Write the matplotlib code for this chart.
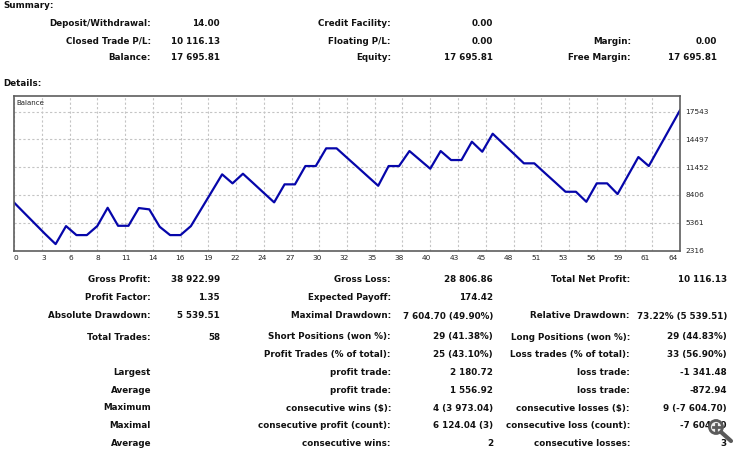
import numpy as np
import matplotlib.pyplot as plt
from matplotlib.patches import Circle
from matplotlib.lines import Line2D
from matplotlib.transforms import IdentityTransform

# balance curve
balance = [7580, 6420, 5268, 4116, 3018, 4993, 4006, 4006, 4993, 7001,
           5026, 5026, 6969, 6826, 4917, 4006, 4006, 4993, 6881, 8768,
           10666, 9679, 10732, 9690, 8636, 7594, 9569, 9569, 11577, 11577,
           13519, 13519, 12488, 11468, 10436, 9415, 11577, 11577, 13223, 12252,
           11281, 13223, 12236, 12236, 14244, 13146, 15122, 14035, 12960, 11874,
           11874, 10831, 9800, 8757, 8757, 7660, 9679, 9679, 8505, 10535,
           12565, 11577, 13618, 15659, 17695.81]
x_labels = ['0', '3', '6', '8', '11', '14', '16', '19', '22', '24', '27', '30',
            '32', '35', '38', '40', '43', '45', '48', '51', '53', '56', '59',
            '61', '64']
y_ticks = [2316, 5361, 8406, 11452, 14497, 17543]

summary_rows = [
    ["Deposit/Withdrawal:", "14.00", "Credit Facility:", "0.00", "", ""],
    ["Closed Trade P/L:", "10 116.13", "Floating P/L:", "0.00", "Margin:", "0.00"],
    ["Balance:", "17 695.81", "Equity:", "17 695.81", "Free Margin:", "17 695.81"],
]
details_rows = [
    ["Gross Profit:", "38 922.99", "Gross Loss:", "28 806.86", "Total Net Profit:", "10 116.13"],
    ["Profit Factor:", "1.35", "Expected Payoff:", "174.42", "", ""],
    ["Absolute Drawdown:", "5 539.51", "Maximal Drawdown:", "7 604.70 (49.90%)",
     "Relative Drawdown:", "73.22% (5 539.51)"],
    ["Total Trades:", "58", "Short Positions (won %):", "29 (41.38%)",
     "Long Positions (won %):", "29 (44.83%)"],
    ["", "", "Profit Trades (% of total):", "25 (43.10%)",
     "Loss trades (% of total):", "33 (56.90%)"],
    ["Largest", "", "profit trade:", "2 180.72", "loss trade:", "-1 341.48"],
    ["Average", "", "profit trade:", "1 556.92", "loss trade:", "-872.94"],
    ["Maximum", "", "consecutive wins ($):", "4 (3 973.04)",
     "consecutive losses ($):", "9 (-7 604.70)"],
    ["Maximal", "", "consecutive profit (count):", "6 124.04 (3)",
     "consecutive loss (count):", "-7 604.70"],
    ["Average", "", "consecutive wins:", "2", "consecutive losses:", "3"],
]

W, H = 750, 455
fig = plt.figure(figsize=(W / 100, H / 100), dpi=100)
fig.patch.set_facecolor('white')


def px(x, y):
    return x / W, 1 - y / H


def table(rows, ys, cols, fs=6.3):
    for row, y in zip(rows, ys):
        for txt, xr in zip(row, cols):
            if txt:
                fig.text(*px(xr, y), txt, ha='right', va='center',
                         fontsize=fs, fontweight='bold', color='#111111')


fig.text(*px(3, 6), "Summary:", ha='left', va='center', fontsize=6.3,
         fontweight='bold', color='#111111')
table(summary_rows, [23, 41, 58], [151, 220, 391, 493, 631, 717])
fig.text(*px(3, 84), "Details:", ha='left', va='center', fontsize=6.3,
         fontweight='bold', color='#111111')
table(details_rows, [280, 298, 316, 337, 355, 372.5, 390.5, 408, 425.5, 443],
      [151, 220, 391, 493, 630, 727])

# balance graph
left, right, top, bottom = 14, 680, 96, 250.5
ax = fig.add_axes([left / W, 1 - bottom / H, (right - left) / W, (bottom - top) / H])
x = np.arange(len(balance))
ax.plot(x, balance, color='#0606aa', lw=1.6, solid_joinstyle='round')
ax.set_xlim(0, 64)
ax.set_ylim(2316, 19258)

ax.set_xticks(np.linspace(0, 64, 25), minor=True)
ax.set_xticks(np.linspace(0.2, 63.3, 25))
ax.set_xticklabels(x_labels)
ax.set_yticks(y_ticks)
ax.yaxis.tick_right()
ax.tick_params(axis='both', which='both', length=0, labelsize=5.3,
               colors='#222222')
ax.tick_params(axis='x', pad=3)
ax.tick_params(axis='y', pad=4)
ax.xaxis.grid(True, which='minor', color='#c4c4c4', ls=(0, (2, 2)), lw=0.8)
ax.yaxis.grid(True, which='major', color='#c4c4c4', ls=(0, (2, 2)), lw=0.8)
ax.set_axisbelow(True)
for s in ax.spines.values():
    s.set_color('#5e5e5e')
    s.set_linewidth(1.2)
ax.text(0.004, 0.955, "Balance", transform=ax.transAxes, ha='left', va='center',
        fontsize=5, color='#222222')

# zoom icon of the screenshot (pixel coordinates), drawn over the text
pix = IdentityTransform()
icx, icy = 716, H - 427
icon = '#5a5a5a'
fig.add_artist(Line2D([icx + 5, icx + 15], [icy - 5, icy - 14], transform=pix,
                      color=icon, lw=3, solid_capstyle='round', zorder=10))
fig.add_artist(Circle((icx, icy), 6.5, transform=pix, facecolor='#ececec',
                      edgecolor=icon, lw=2, zorder=11))
fig.add_artist(Line2D([icx - 3.5, icx + 3.5], [icy, icy], transform=pix,
                      color=icon, lw=2, zorder=12))
fig.add_artist(Line2D([icx, icx], [icy - 3.5, icy + 3.5], transform=pix,
                      color=icon, lw=2, zorder=12))

fig.savefig('out.png', dpi=100, facecolor='white')
